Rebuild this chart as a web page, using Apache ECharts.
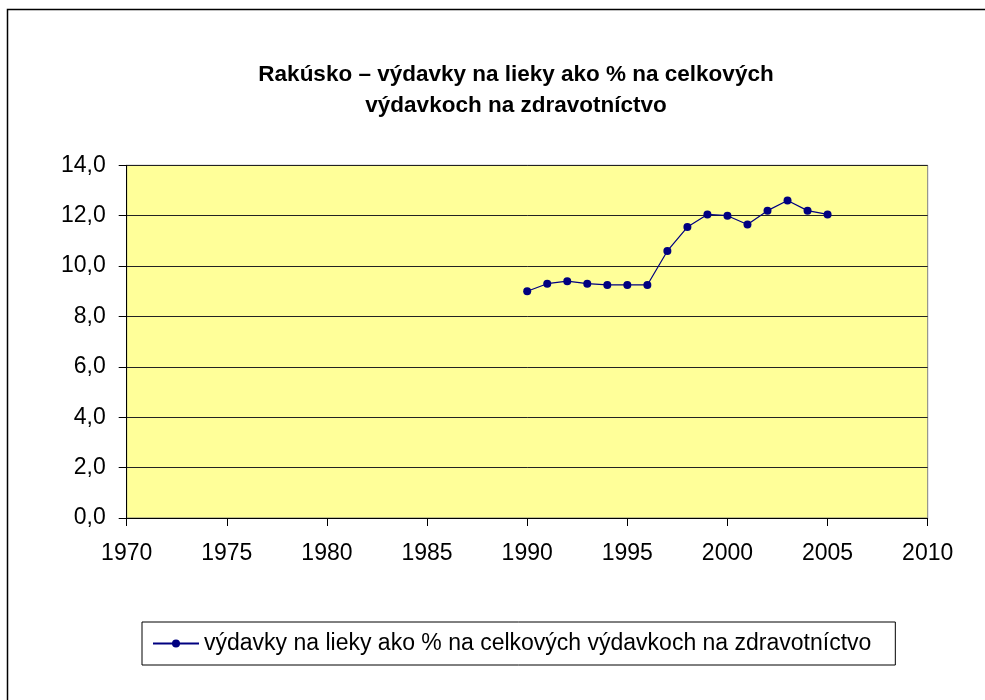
<!DOCTYPE html>
<html>
<head>
<meta charset="utf-8">
<script src="https://cdn.jsdelivr.net/npm/echarts@6/dist/echarts.min.js"></script>
<style>
html,body{margin:0;padding:0;background:#fff;}
#chart{width:985px;height:700px;}
</style>
</head>
<body>
<div id="chart"></div>
<script>
const years = [1990,1991,1992,1993,1994,1995,1996,1997,1998,1999,2000,2001,2002,2003,2004,2005];
const values = [9.0,9.3,9.4,9.3,9.25,9.25,9.25,10.6,11.55,12.05,12.0,11.65,12.2,12.6,12.2,12.05];
const seriesName = 'výdavky na lieky ako % na celkových výdavkoch na zdravotníctvo';
const titleText = 'Rakúsko – výdavky na lieky ako % na celkových\nvýdavkoch na zdravotníctvo';

const chart = echarts.init(document.getElementById('chart'), null, {renderer:'canvas'});
const font = 'Liberation Sans, Arial, sans-serif';
chart.setOption({
  animation: false,
  backgroundColor: '#ffffff',
  textStyle: {fontFamily: font},
  title: {
    text: titleText,
    left: 511, top: 54, textAlign: 'center',
    textStyle: {fontFamily: font, fontWeight: 'bold', fontSize: 22.5, color: '#000', lineHeight: 31}
  },
  graphic: [{
    type: 'rect', silent: true, z: -1,
    shape: {x: 7.5, y: 9.5, width: 1000, height: 720},
    style: {fill: 'none', stroke: '#000', lineWidth: 1.5}
  }],
  grid: {
    left: 126.7, top: 165.3, right: 57.3, bottom: 182,
    show: true, backgroundColor: '#FFFF99', borderColor: '#808080', borderWidth: 1
  },
  legend: {
    left: 142, top: 622,
    padding: [10, 24, 10, 10],
    borderColor: '#000', borderWidth: 1,
    itemWidth: 46, itemHeight: 10, itemGap: 5,
    textStyle: {fontFamily: font, fontSize: 23, color: '#000'},
    data: [seriesName]
  },
  xAxis: {
    type: 'value', min: 1970, max: 2010, interval: 5,
    axisLine: {show: true, lineStyle: {color: '#000', width: 1}},
    axisTick: {show: true, length: 8, lineStyle: {color: '#000'}},
    axisLabel: {fontFamily: font, fontSize: 23, color: '#000', margin: 24,
      formatter: v => String(v)},
    splitLine: {show: false}
  },
  yAxis: {
    type: 'value', min: 0, max: 14, interval: 2,
    axisLine: {show: true, lineStyle: {color: '#000', width: 1}},
    axisTick: {show: true, length: 8, lineStyle: {color: '#000'}},
    axisLabel: {fontFamily: font, fontSize: 23, color: '#000', margin: 21,
      formatter: v => v.toFixed(1).replace('.', ',')},
    splitLine: {show: true, lineStyle: {color: '#222', width: 1}}
  },
  series: [{
    name: seriesName,
    type: 'line',
    data: years.map((y, i) => [y, values[i]]),
    symbol: 'circle', symbolSize: 8,
    lineStyle: {color: '#000080', width: 1.2},
    itemStyle: {color: '#000080'}
  }]
});
</script>
</body>
</html>
